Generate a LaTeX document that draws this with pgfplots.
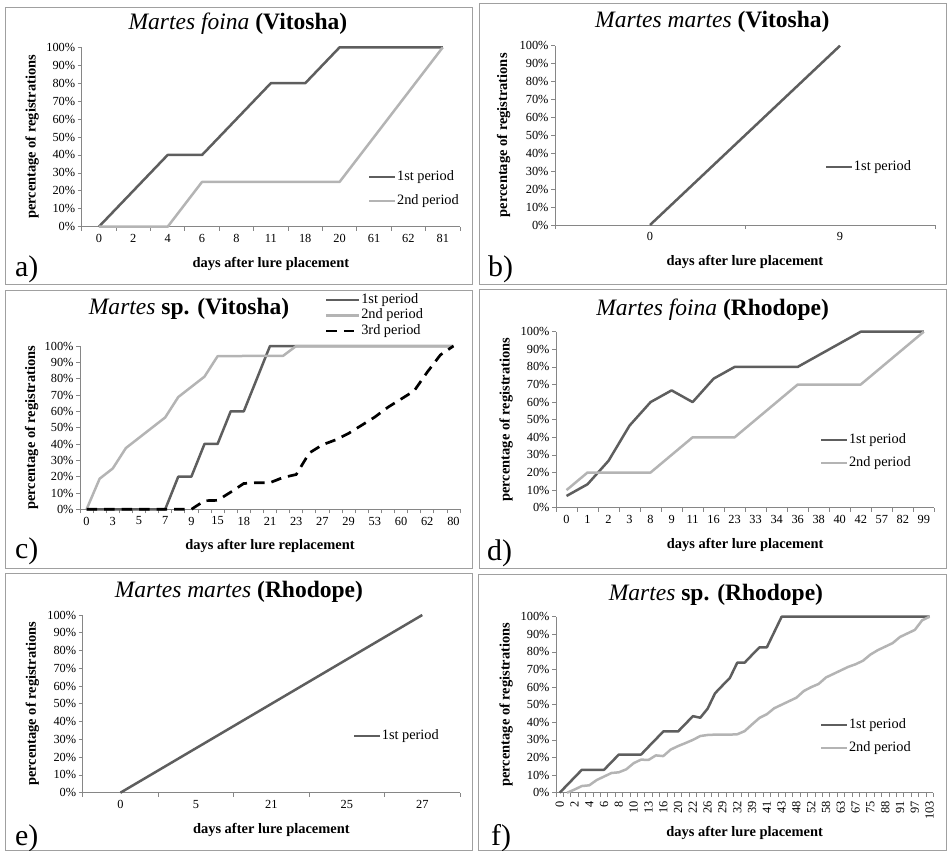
\documentclass[border=0pt]{standalone}
\usepackage{fontspec}
\setmainfont{Liberation Serif}
\usepackage{pgfplots}
\pgfplotsset{compat=1.18}
\definecolor{axgray}{HTML}{868686}
\definecolor{boxgray}{HTML}{A0A0A0}
\definecolor{dark}{HTML}{5E5E5E}
\definecolor{light}{HTML}{B4B4B4}
\newcommand\ticksize{\fontsize{12.4}{14}\selectfont}
\newcommand\labsize{\fontsize{14.5}{17}\selectfont}
\newcommand\legsize{\fontsize{14.4}{17}\selectfont}
\newcommand\titsize{\fontsize{23.6}{28}\selectfont}
\newcommand\pansize{\fontsize{30}{33}\selectfont}
\pgfplotsset{
  legend image code/.code={\draw[#1] (0bp,0bp) -- (26bp,0bp);},
  s1/.style={draw=dark, line width=2.5bp, mark=none, line join=round},
  s2/.style={draw=light, line width=2.5bp, mark=none, line join=round},
  s3/.style={draw=black, line width=2.7bp, mark=none, dash pattern=on 10.5bp off 7bp},
  panel/.style={
    scale only axis, clip=false,
    axis x line=bottom, axis y line=left,
    axis line style={-, draw=axgray, line width=0.75bp},
    ymin=0, ymax=100,
    ytick={0,10,...,100},
    yticklabels={0\%,10\%,20\%,30\%,40\%,50\%,60\%,70\%,80\%,90\%,100\%},
    tick align=outside,
    major tick length=4bp, minor tick length=4bp,
    tick style={draw=axgray, line width=0.75bp},
    major x tick style={draw=none},
    ticklabel style={font=\ticksize, text=black},
    yticklabel style={xshift=1bp},
    xlabel style={font=\labsize\bfseries, at={(axis description cs:0.5,0)}, anchor=center, yshift=-37bp},
    ylabel style={font=\labsize\bfseries, anchor=center},
    ylabel={percentage of registrations},
    xlabel={days after lure placement},
    legend cell align=left,
    legend style={draw=none, fill=none, inner sep=0pt, outer sep=0pt, font=\legsize, anchor=west,
      nodes={inner sep=0.5bp, text height=10bp, text depth=3bp}},
    title style={font=\titsize, anchor=base},
  }
}
\begin{document}
\begin{tikzpicture}
\path[use as bounding box] (0bp,0bp) rectangle (949bp,-851bp);
\begin{scope}[boxgray, line width=0.8bp]
\draw (5bp,-7bp) rectangle (472bp,-284bp);
\draw (479bp,-3bp) rectangle (946bp,-284bp);
\draw (5bp,-290bp) rectangle (472bp,-568bp);
\draw (479bp,-289bp) rectangle (946bp,-568bp);
\draw (5bp,-573bp) rectangle (472bp,-850bp);
\draw (478bp,-574bp) rectangle (946bp,-850bp);
\end{scope}
\node[anchor=base west, inner sep=0pt, font=\pansize] at (15bp,-276bp) {a)};
\node[anchor=base west, inner sep=0pt, font=\pansize] at (488bp,-276bp) {b)};
\node[anchor=base west, inner sep=0pt, font=\pansize] at (15bp,-558bp) {c)};
\node[anchor=base west, inner sep=0pt, font=\pansize] at (487bp,-560bp) {d)};
\node[anchor=base west, inner sep=0pt, font=\pansize] at (15bp,-845bp) {e)};
\node[anchor=base west, inner sep=0pt, font=\pansize] at (491bp,-845bp) {f)};

% a
\begin{axis}[panel, at={(81.7bp,-226.7bp)}, anchor=south west, width=378.3bp, height=179.4bp,
  xmin=-0.5, xmax=10.5, xtick={0,...,10}, minor xtick={-0.5,0.5,...,10.5},
  xticklabels={0,2,4,6,8,11,18,20,61,62,81},
  title={\textit{Martes foina} \textbf{(Vitosha)}},
  title style={at={(axis description cs:0.413,1)}, yshift=12bp},
  ylabel style={at={(axis description cs:-0.131,0.5)}},
  legend style={at={(axis description cs:0.757,0.21)}, row sep=10bp}]
\addplot[s1] coordinates {(0,0)(1,20)(2,40)(3,40)(4,60)(5,80)(6,80)(7,100)(8,100)(9,100)(10,100)};
\addplot[s2] coordinates {(0,0)(1,0)(2,0)(3,25)(4,25)(5,25)(6,25)(7,25)(8,50)(9,75)(10,100)};
\legend{1st period,2nd period}
\end{axis}

% b
\begin{axis}[panel, at={(555bp,-225bp)}, anchor=south west, width=380bp, height=179.3bp,
  xmin=-0.5, xmax=1.5, xtick={0,1}, minor xtick={-0.5,0.5,1.5},
  xticklabels={0,9},
  title={\textit{Martes martes} \textbf{(Vitosha)}},
  title style={at={(axis description cs:0.414,1)}, yshift=12.4bp},
  ylabel style={at={(axis description cs:-0.1355,0.5)}},
  legend style={at={(axis description cs:0.7105,0.3235)}}]
\addplot[s1] coordinates {(0,0)(1,100)};
\legend{1st period}
\end{axis}

% c
\begin{axis}[panel, at={(80bp,-509.3bp)}, anchor=south west, width=380bp, height=163.3bp,
  xmin=-0.5, xmax=28.5, xtick={0,2,...,28}, minor xtick={-0.5,0.5,...,28.5},
  xticklabels={0,3,5,7,9,15,18,21,23,27,29,53,60,62,80},
  xlabel={days after lure replacement},
  title={\textit{Martes} \textbf{sp. (Vitosha)}},
  title style={at={(axis description cs:0.287,1)}, yshift=26bp},
  ylabel style={at={(axis description cs:-0.1276,0.5)}},
  legend image code/.code={\draw[#1] (0bp,0bp) -- (33bp,0bp);},
  legend style={at={(axis description cs:0.645,1.187)}, row sep=1.5bp}]
\addplot[s1] coordinates {(0,0)(1,0)(2,0)(3,0)(4,0)(5,0)(6,0)(7,20)(8,20)(9,40)(10,40)(11,60)(12,60)(13,80)(14,100)(15,100)(16,100)(17,100)(18,100)(19,100)(20,100)(21,100)(22,100)(23,100)(24,100)(25,100)(26,100)(27,100)(28,100)};
\addplot[s2] coordinates {(0,0)(1,18.75)(2,25)(3,37.5)(4,43.75)(5,50)(6,56.25)(7,68.75)(8,75)(9,81.25)(10,93.75)(11,93.75)(12,93.9)(13,94)(14,94)(15,94)(16,100)(17,100)(18,100)(19,100)(20,100)(21,100)(22,100)(23,100)(24,100)(25,100)(26,100)(27,100)(28,100)};
\addplot[s3] coordinates {(0,0)(1,0)(2,0)(3,0)(4,0)(5,0)(6,0)(7,0)(8,0)(9,5.26)(10,5.5)(11,10.5)(12,15.8)(13,16.3)(14,16.3)(15,19.5)(16,21.3)(17,34.5)(18,39.5)(19,42.5)(20,46.5)(21,51.5)(22,56.5)(23,62.5)(24,67.5)(25,72.5)(26,84)(27,94.5)(28,100)};
\legend{1st period,2nd period,3rd period}
\end{axis}

% d
\begin{axis}[panel, at={(556bp,-507.7bp)}, anchor=south west, width=378.3bp, height=176bp,
  xmin=-0.5, xmax=17.5, xtick={0,...,17}, minor xtick={-0.5,0.5,...,17.5},
  xticklabels={0,1,2,3,8,9,11,16,23,33,34,36,38,40,42,57,82,99},
  title={\textit{Martes foina} \textbf{(Rhodope)}},
  title style={at={(axis description cs:0.414,1)}, yshift=10.5bp},
  ylabel style={at={(axis description cs:-0.132,0.5)}},
  legend style={at={(axis description cs:0.698,0.319)}, row sep=9bp}]
\addplot[s1] coordinates {(0,6.67)(1,13.33)(2,26.67)(3,46.67)(4,60)(5,66.67)(6,60)(7,73.33)(8,80)(9,80)(10,80)(11,80)(12,86.67)(13,93.33)(14,100)(15,100)(16,100)(17,100)};
\addplot[s2] coordinates {(0,10)(1,20)(2,20)(3,20)(4,20)(5,30)(6,40)(7,40)(8,40)(9,50)(10,60)(11,70)(12,70)(13,70)(14,70)(15,80)(16,90)(17,100)};
\legend{1st period,2nd period}
\end{axis}

% e
\begin{axis}[panel, at={(82.7bp,-792.7bp)}, anchor=south west, width=377.3bp, height=177.7bp,
  xmin=-0.5, xmax=4.5, xtick={0,...,4}, minor xtick={-0.5,0.5,...,4.5},
  xticklabels={0,5,21,25,27},
  title={\textit{Martes martes} \textbf{(Rhodope)}},
  title style={at={(axis description cs:0.414,1)}, yshift=11.7bp},
  ylabel style={at={(axis description cs:-0.1336,0.5)}},
  legend style={at={(axis description cs:0.716,0.319)}}]
\addplot[s1] coordinates {(0,0)(1,25)(2,50)(3,75)(4,100)};
\legend{1st period}
\end{axis}

% f
\begin{axis}[panel, at={(556bp,-792.7bp)}, anchor=south west, width=377.3bp, height=176bp,
  xmin=-0.5, xmax=50.5, xtick={0,2,...,50}, minor xtick={-0.5,0.5,...,50.5},
  xticklabels={0,2,4,6,8,10,13,16,20,22,26,29,32,39,41,43,48,52,58,63,67,75,88,91,97,103},
  xticklabel style={rotate=90, anchor=east, xshift=-1bp},
  xlabel style={yshift=-3bp},
  title={\textit{Martes} \textbf{sp. (Rhodope)}},
  title style={at={(axis description cs:0.424,1)}, yshift=10bp},
  ylabel style={at={(axis description cs:-0.1325,0.5)}},
  legend style={at={(axis description cs:0.6997,0.318)}, row sep=9bp}]
\addplot[s1] coordinates {(0,0)(1,4.35)(2,8.7)(3,13.04)(4,13.04)(5,13.04)(6,13.04)(7,17.4)(8,21.7)(9,21.7)(10,21.7)(11,21.7)(12,26.1)(13,30.4)(14,34.8)(15,34.8)(16,34.8)(17,39.1)(18,43.5)(19,42.6)(20,47.8)(21,56.5)(22,60.9)(23,65.2)(24,73.9)(25,73.9)(26,78.3)(27,82.6)(28,82.6)(29,91.3)(30,100)(31,100)(32,100)(33,100)(34,100)(35,100)(36,100)(37,100)(38,100)(39,100)(40,100)(41,100)(42,100)(43,100)(44,100)(45,100)(46,100)(47,100)(48,100)(49,100)(50,100)};
\addplot[s2] coordinates {(1,0)(2,1.8)(3,3.8)(4,4.2)(5,7.2)(6,9.2)(7,11.2)(8,11.6)(9,13.3)(10,16.8)(11,18.8)(12,18.6)(13,21.2)(14,20.8)(15,24.5)(16,26.5)(17,28.2)(18,30)(19,32.2)(20,32.8)(21,33)(22,33)(23,33)(24,33.2)(25,35)(26,38.8)(27,42.5)(28,44.6)(29,48)(30,50)(31,52)(32,54)(33,57.8)(34,60)(35,61.8)(36,65.5)(37,67.5)(38,69.5)(39,71.5)(40,73)(41,75)(42,78.5)(43,81)(44,83)(45,85)(46,88.5)(47,90.5)(48,92.5)(49,98)(50,100)};
\legend{1st period,2nd period}
\end{axis}
\end{tikzpicture}
\end{document}
